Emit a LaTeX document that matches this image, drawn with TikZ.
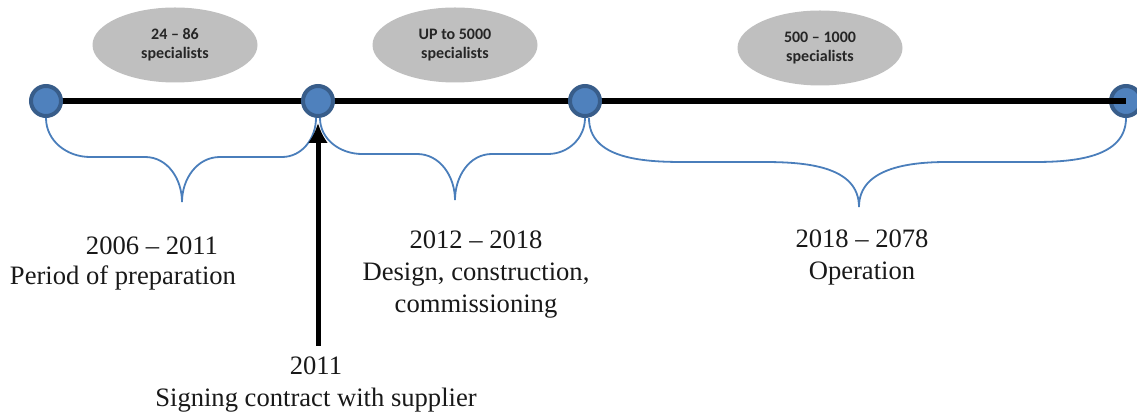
\documentclass[tikz,border=0pt]{standalone}
\usepackage{fontspec}
\setmainfont{Liberation Serif}
\newfontfamily\calibri{Carlito}
\usepackage{tikz}
\usetikzlibrary{shapes.geometric,arrows.meta}
\definecolor{dotblue}{HTML}{4F81BD}
\definecolor{dotrim}{HTML}{385D8A}
\definecolor{bracecol}{HTML}{4A7EBB}
\definecolor{cloudgray}{HTML}{BFBFBF}

\begin{document}
\begin{tikzpicture}[x=0.5pt,y=-0.5pt,
    dot/.style={circle,fill=dotblue,draw=dotrim,line width=2pt,minimum size=15pt,inner sep=0pt},
    crowd/.style={ellipse,fill=cloudgray,minimum width=82.5pt,minimum height=37.5pt,inner sep=0pt,
        align=center,text=black!85,font=\calibri\bfseries\fontsize{8}{9.5}\selectfont},
    brace/.style={draw=bracecol,line width=0.9pt},
    era/.style={align=center,text=black!90,font=\fontsize{13.3}{16}\selectfont}]
    \useasboundingbox (0,0) rectangle (1137,416);

    % Time axis
    \coordinate (t1) at (46,101);
    \node[dot] (d4) at (1126,101) {};
    \draw[line width=3pt] (t1) -- (d4.center);
    \node[dot] (d1) at (t1) {};
    \node[dot] (d2) at (318,101) {};
    \node[dot] (d3) at (585,101) {};

    % Staff numbers
    \node[crowd] (c1) at (175,45) {24 – 86\\specialists};
    \node[crowd] (c2) at (455,45) {UP to 5000\\specialists};
    \node[crowd] (c3) at (820,48) {500 – 1000\\specialists};

    % Braces under the periods
    \draw[brace] (d1.south) to[out=-90,in=180] (90,157) -- (145,157)
        to[out=0,in=90] (182,202) to[out=90,in=180] (220,157) -- (282,157)
        to[out=0,in=-90] ([xshift=-1pt]d2.south);
    \draw[brace] ([xshift=1pt]d2.south) to[out=-90,in=180] (362,154) -- (417,154)
        to[out=0,in=90] (455,200) to[out=90,in=180] (492,154) -- (548,154)
        to[out=0,in=-90] (d3.south);
    \draw[brace] ([xshift=2pt]d3.south) to[out=-90,in=180] (683,162) -- (763,162)
        to[out=0,in=90] (859,207) to[out=90,in=180] (947,162) -- (1035,162)
        to[out=0,in=-90] (d4.south);

    % Periods
    \node[era] (p1a) at (152,246) {2006 – 2011};
    \node[era] (p1b) at (123,278) {Period of preparation};
    \node[era] (p2) at (476,275) {2012 – 2018\\Design, construction,\\commissioning};
    \node[era] (p3) at (862,257) {2018 – 2078\\Operation};

    % Contract
    \coordinate (sign) at (318,346);
    \draw[-{Latex[length=10pt,width=10pt]},line width=2.5pt] (sign) -- ([yshift=-2.5pt]d2.south);
    \node[era] (s1) at (316,385) {2011\\Signing contract with supplier};
\end{tikzpicture}
\end{document}
